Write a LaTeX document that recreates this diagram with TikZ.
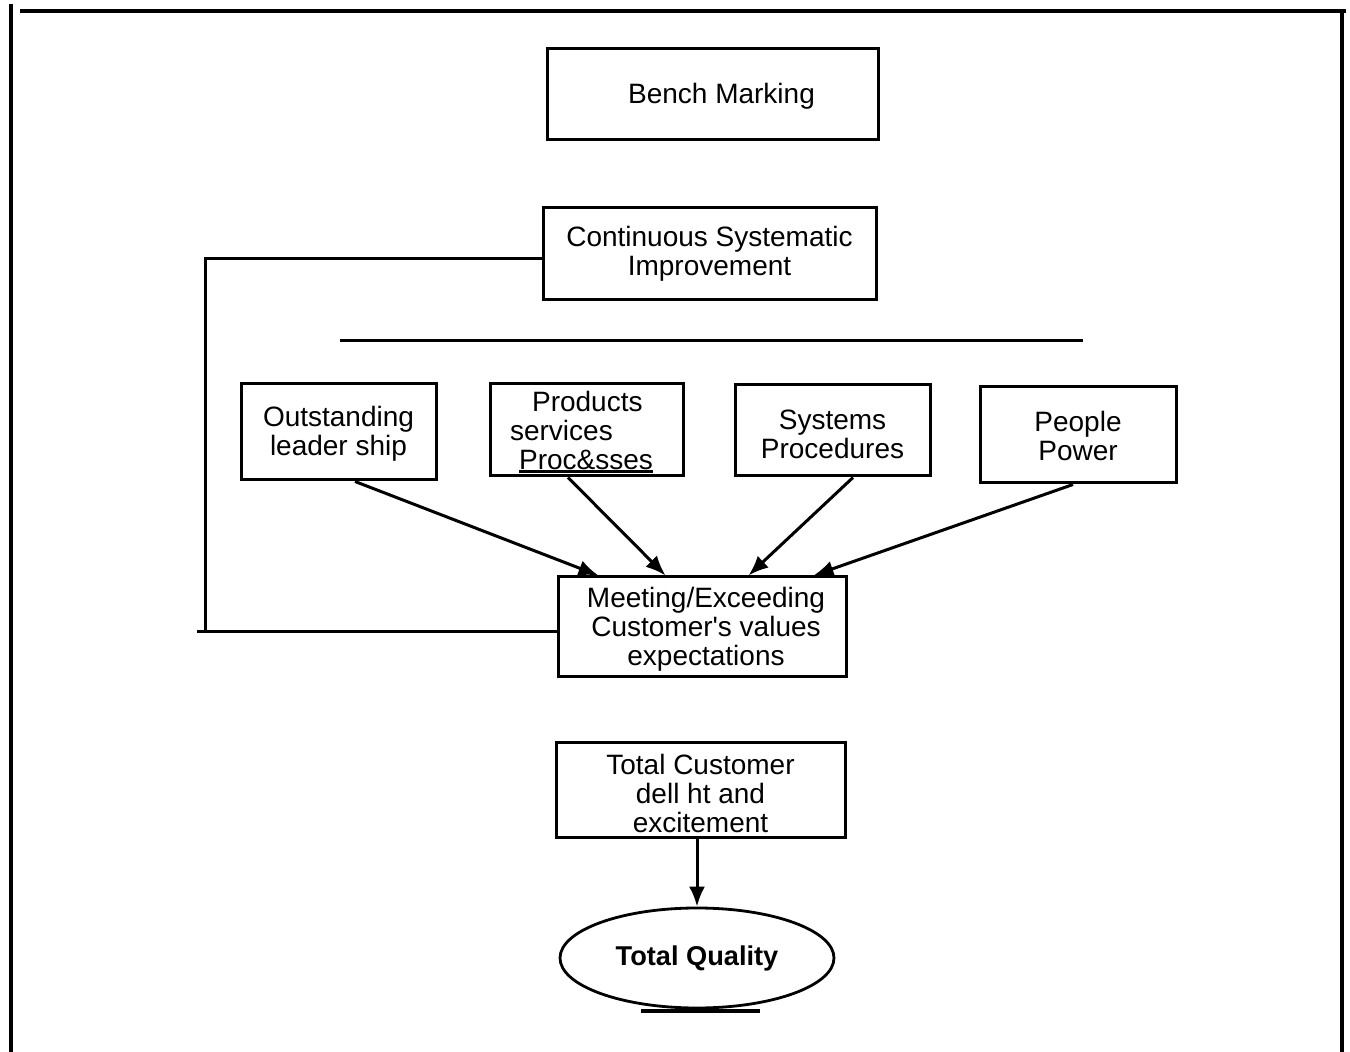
\documentclass[tikz,border=0pt]{standalone}
\usepackage{fontspec}
\setmainfont{Liberation Sans}[Ligatures=TeXOff]
\usetikzlibrary{arrows.meta,shapes.geometric}
% centred stack of lines, lowered by the optional amount (box size kept)
\newcommand\linestack[2][0pt]{\raisebox{#1}[\height][\depth]{\begin{tabular}{@{}c@{}}#2\end{tabular}}}
% heavy underline just below the baseline
\newcommand\heavyul[1]{\setbox0\hbox{#1}\rlap{\rule[-2pt]{\wd0}{1.4pt}}\box0}
\begin{document}
\begin{tikzpicture}[x=0.5pt,y=-0.5pt,
  lbl/.style={font=\fontsize{14}{14.3}\selectfont, align=center},
  box/.style={draw, line width=1.5pt, inner sep=0pt, lbl},
  link/.style={line width=1.5pt},
  flow/.style={line width=1.5pt, -{Latex[length=10pt,width=8pt]}},
  frame/.style={line width=1.8pt}]
\useasboundingbox (0,0) rectangle (1350,1052);

% outer frame (open at the bottom)
\coordinate (fTL) at (11,4);
\coordinate (fBL) at (11,1052);
\coordinate (tL) at (20,11);
\coordinate (tR) at (1346,11);
\coordinate (fBR) at (1342,1052);
\draw[frame] (fTL) -- (fBL);
\draw[frame] (tL) -- (tR);
\draw[frame] (1342,11) -- (fBR);

% boxes
\node[box, minimum width=165.5pt, minimum height=45.5pt] (bench) at (712.5,94.5)
  {\hspace*{9pt}\raisebox{-1pt}[\height][\depth]{Bench Marking}};
\node[box, minimum width=166.5pt, minimum height=46pt] (csi) at (709.5,254)
  {\linestack[-0.5pt]{Continuous Systematic\\Improvement}};

\node[box, minimum width=97.5pt, minimum height=48pt] (lead) at (338.5,432)
  {\linestack[-1.75pt]{Outstanding\\leader ship}};
\node[box, minimum width=96.5pt, minimum height=46pt] (prod) at (586.5,430)
  {\raisebox{-2.3pt}[\height][\depth]{\begin{tabular}{@{}l@{}}\hspace*{11pt}Products\\services\\\hspace*{4.5pt}\heavyul{Proc\&sses}\end{tabular}}\hspace*{5pt}};
\node[box, minimum width=97.5pt, minimum height=45.5pt] (sys) at (832.5,430.5)
  {\linestack[-4pt]{Systems\\Procedures}};
\node[box, minimum width=98pt, minimum height=48pt] (people) at (1078,435)
  {\linestack[-2.5pt]{People\\Power}};

\node[box, minimum width=144pt, minimum height=50pt] (meet) at (702,627)
  {\hspace*{4pt}\linestack[-2pt]{Meeting/Exceeding\\Customer's values\\expectations}};

\node[box, minimum width=144.5pt, minimum height=47.5pt] (tcd) at (700.5,790.5)
  {\linestack[-3.5pt]{Total Customer\\dell ht and\\excitement}};

\node[draw, line width=1.4pt, ellipse, minimum width=137pt, minimum height=50pt, inner sep=0pt,
      font=\fontsize{13.6}{14}\selectfont\bfseries] (tq) at (697,958) {Total Quality};

% horizontal bar above the four pillars
\coordinate (barL) at (340,341);
\coordinate (barR) at (1083,341);
\draw[link] (barL) -- (barR);

% feedback loop from improvement to customer expectations
\coordinate (fbTop) at (205,259);
\coordinate (fbDown) at (205,632);
\coordinate (fbBot) at (197,632);
\draw[link] (csi.west |- fbTop) -- (fbTop) -- (fbDown);
\draw[link] (fbBot) -- (meet.west |- fbBot);

% pillars feeding the customer expectations
\draw[flow] ([xshift=8.25pt]lead.south) -- ([xshift=21pt]meet.north west);
\draw[flow] ([xshift=-9.25pt]prod.south) -- ([xshift=54.5pt]meet.north west);
\draw[flow] ([xshift=10.25pt]sys.south) -- ([xshift=96pt]meet.north west);
\draw[flow] ([xshift=-2.5pt]people.south) -- ([xshift=128.5pt]meet.north west);

% delight leads to total quality
\draw[flow] ([xshift=-1.75pt]tcd.south) -- (tq.north);

% rule under the ellipse
\coordinate (ulL) at (641,1011);
\coordinate (ulR) at (760,1011);
\draw[line width=1.6pt] (ulL) -- (ulR);
\end{tikzpicture}
\end{document}
